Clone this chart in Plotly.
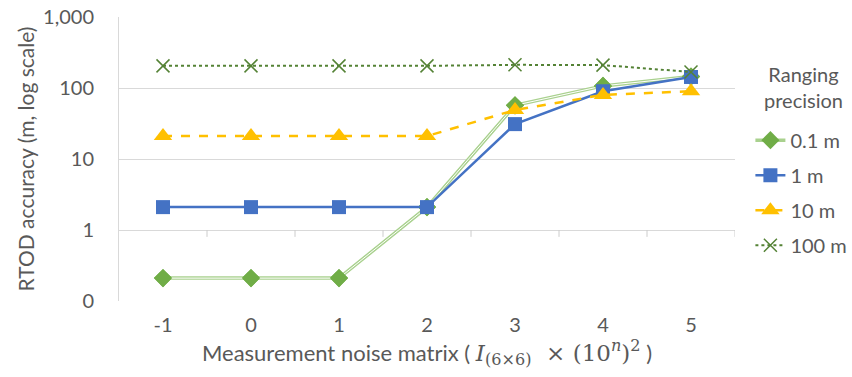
import plotly.graph_objects as go

x_vals = [-1, 0, 1, 2, 3, 4, 5]
s01 = [0.21, 0.21, 0.21, 2.1, 57, 107, 145]
s1 = [2.1, 2.1, 2.1, 2.1, 31, 90, 143]
s10 = [21, 21, 21, 21, 49, 80, 90]
s100 = [205, 205, 205, 205, 212, 210, 168]
y_ticks = [0.1, 1, 10, 100, 1000]
y_ticktext = ["0", "1", "10", "100", "1,000"]
x_ticktext = ["-1", "0", "1", "2", "3", "4", "5"]
x_boundaries = [-0.5, 0.5, 1.5, 2.5, 3.5, 4.5, 5.5]
x_cross_value = 1  # horizontal axis crosses the log axis at 1

FONT = "Lato, Open Sans, sans-serif"
GREY = "#595959"
GRID = "#D9D9D9"

fig = go.Figure()
# 0.1 m: compound (double) light-green line with green diamonds
fig.add_trace(go.Scatter(x=x_vals, y=s01, name="0.1 m", mode="lines+markers",
                         legendgroup="a",
                         line=dict(color="#A9D18E", width=3.5),
                         marker=dict(symbol="diamond", size=14, color="#70AD47")))
fig.add_trace(go.Scatter(x=x_vals, y=s01, mode="lines", showlegend=False, hoverinfo="skip",
                         line=dict(color="white", width=1)))
fig.add_trace(go.Scatter(x=x_vals, y=s01, mode="markers", showlegend=False,
                         marker=dict(symbol="diamond", size=14, color="#70AD47")))
fig.add_trace(go.Scatter(x=x_vals, y=s1, name="1 m", mode="lines+markers", legendgroup="b",
                         line=dict(color="#4472C4", width=2.5),
                         marker=dict(symbol="square", size=14, color="#4472C4")))
fig.add_trace(go.Scatter(x=x_vals, y=s10, name="10 m", mode="lines+markers", legendgroup="c",
                         line=dict(color="#FFC000", width=2.5, dash="dash"),
                         marker=dict(symbol="triangle-up", size=16, color="#FFC000")))
fig.add_trace(go.Scatter(x=x_vals, y=s100, name="100 m", mode="lines+markers", legendgroup="d",
                         line=dict(color="#548235", width=2, dash="dot"),
                         marker=dict(symbol="x-thin", size=13,
                                     line=dict(color="#548235", width=1.5))))

# crossing-axis tick marks (category boundaries) hanging just below y = 1
for b in x_boundaries:
    fig.add_shape(type="line", xref="x", yref="y", x0=b, x1=b,
                  y0=x_cross_value, y1=x_cross_value * 0.8,
                  line=dict(color="#CCCCCC", width=1), layer="above")

xtitle = ("Measurement noise matrix ( <span style='font-family:DejaVu Serif;font-size:23px'>"
          "<i>I</i><sub>(6×6)</sub>  × (10<sup><i>n</i></sup>)<sup>2</sup></span> )")

fig.update_layout(
    width=852, height=377,
    margin=dict(l=119, r=117, t=17, b=76, autoexpand=False),
    paper_bgcolor="white", plot_bgcolor="white",
    font=dict(family=FONT, size=20, color=GREY),
    xaxis=dict(range=[-1.5, 5.5], tickvals=x_vals, ticktext=x_ticktext,
               showgrid=False, zeroline=False, showline=False, ticks="",
               ticklabelstandoff=10, tickfont=dict(size=20, color=GREY),
               title=dict(text=xtitle, font=dict(size=22, color=GREY), standoff=4)),
    yaxis=dict(type="log", range=[-1, 3], tickvals=y_ticks, ticktext=y_ticktext,
               showgrid=True, gridcolor=GRID, gridwidth=1, zeroline=False,
               showline=True, linecolor=GRID, ticks="", ticklabelstandoff=20,
               tickfont=dict(size=20, color=GREY),
               title=dict(text="RTOD accuracy (m, log scale)", font=dict(size=21, color=GREY),
                          standoff=2)),
    legend=dict(x=1.025, y=0.635, xanchor="left", yanchor="top",
                font=dict(size=20, color=GREY), tracegroupgap=6,
                itemwidth=30, bgcolor="rgba(0,0,0,0)"),
    annotations=[dict(text="Ranging<br>precision", x=1.112, y=0.752, xref="paper", yref="paper",
                      xanchor="center", yanchor="middle", showarrow=False,
                      font=dict(size=20, color=GREY))],
    showlegend=True,
)
fig.write_html("out.html")
